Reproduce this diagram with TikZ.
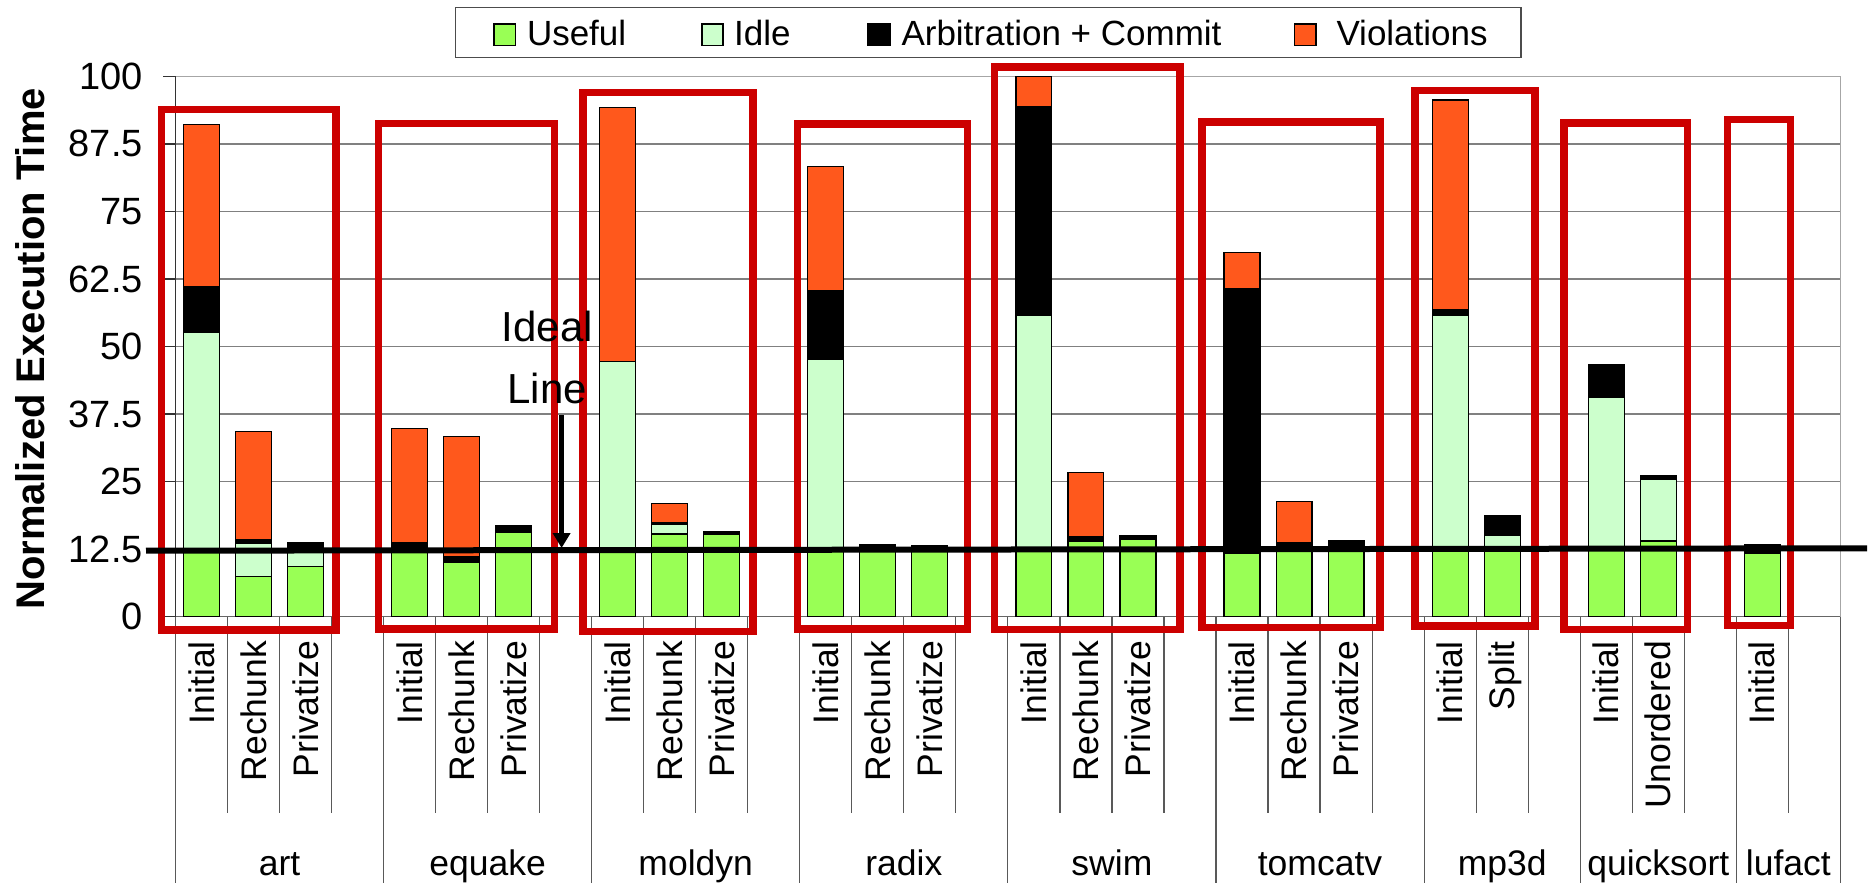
\documentclass[tikz,border=0pt]{standalone}
\usepackage{fontspec}
\setmainfont{Liberation Sans}
\usetikzlibrary{arrows.meta}

\definecolor{cUse}{RGB}{153,255,85}
\definecolor{cIdle}{RGB}{204,255,204}
\definecolor{cViol}{RGB}{255,88,28}
\definecolor{cBox}{RGB}{204,0,0}

% one stacked bar: index, useful, idle, arbitration+commit, violations
\newcommand\stk[5]{%
  \pgfmathsetmacro\stA{#2}%
  \pgfmathsetmacro\stB{#2+#3}%
  \pgfmathsetmacro\stC{#2+#3+#4}%
  \pgfmathsetmacro\stD{#2+#3+#4+#5}%
  \draw[seg, fill=cUse] (#1+0.155,0) rectangle (#1+0.845,\stA);
  \ifdim #3pt>0pt \draw[seg, fill=cIdle] (#1+0.155,\stA) rectangle (#1+0.845,\stB);\fi
  \ifdim #4pt>0pt \draw[seg, fill=black] (#1+0.155,\stB) rectangle (#1+0.845,\stC);\fi
  \ifdim #5pt>0pt \draw[seg, fill=cViol] (#1+0.155,\stC) rectangle (#1+0.845,\stD);\fi
}

\begin{document}
\begin{tikzpicture}[x=1pt,y=-1pt,
  seg/.style={draw=black, line width=1.2pt},
  gridline/.style={draw=black!50, line width=1.4pt},
  frameline/.style={draw=black!35, line width=1.4pt},
  axisline/.style={draw=black!60, line width=1.4pt},
  yaxis/.style={draw=black!80, line width=1.4pt},
  catline/.style={draw=black!65, line width=1.2pt},
  hibox/.style={draw=cBox, line width=7.5pt, line join=miter},
  mk/.style={draw=black, line width=1.4pt},
  lgd/.style={font=\fontsize{35}{40}\selectfont, inner sep=0pt},
  ticklbl/.style={font=\fontsize{38}{44}\selectfont, inner sep=0pt, anchor=east},
  sublbl/.style={font=\fontsize{35.5}{40}\selectfont, inner sep=0pt, rotate=90, anchor=base east},
  grplbl/.style={font=\fontsize{35.5}{40}\selectfont, inner sep=0pt, anchor=base},
  notelbl/.style={font=\fontsize{42}{48}\selectfont, inner sep=0pt, anchor=base}]

\useasboundingbox[fill=white] (0,0) rectangle (1868,883);

% ---- plot area in data units: x = category slot, y = percent
\begin{scope}[shift={(175.4,616.7)}, x=52.03pt, y=5.404pt]
  \foreach \v in {12.5,25,37.5,50,62.5,75,87.5}
    \draw[gridline] (0,\v) -- (32,\v);
  \draw[frameline] (0,100) -- (32,100) -- (32,0);
  \draw[axisline] (0,0) -- (32,0);
  \draw[yaxis] (0,0) -- (0,100);
  \foreach \v in {0,12.5,25,37.5,50,62.5,75,87.5,100}
    \draw[yaxis] (0,\v) -- ++(-12.7pt,0pt);

  % art
  \stk{0}{12.5}{40.1}{8.5}{30.0}
  \stk{1}{7.5}{6.0}{0.8}{19.9}
  \stk{2}{9.3}{2.8}{1.6}{0}
  % equake
  \stk{4}{12.2}{0}{1.6}{21.1}
  \stk{5}{10.1}{0}{1.0}{22.2}
  \stk{6}{15.6}{0}{1.2}{0}
  % moldyn
  \stk{8}{12.5}{34.7}{0}{47.0}
  \stk{9}{15.3}{1.8}{0.3}{3.6}
  \stk{10}{15.2}{0}{0.6}{0}
  % radix
  \stk{12}{12.5}{35.2}{12.6}{23.0}
  \stk{13}{12.6}{0}{0.8}{0}
  \stk{14}{12.6}{0}{0.5}{0}
  % swim
  \stk{16}{12.5}{43.2}{38.7}{5.6}
  \stk{17}{13.95}{0}{0.95}{11.8}
  \stk{18}{14.3}{0}{0.75}{0}
  % tomcatv
  \stk{20}{11.8}{0}{48.9}{6.7}
  \stk{21}{12.8}{0}{1.0}{7.5}
  \stk{22}{13.1}{0}{1.0}{0}
  % mp3d
  \stk{24}{12.5}{43.3}{0.95}{38.85}
  \stk{25}{12.8}{2.3}{3.7}{0}
  % quicksort
  \stk{27}{13.0}{27.5}{6.2}{0}
  \stk{28}{14.0}{11.5}{0.6}{0}
  % lufact
  \stk{30}{11.8}{0}{1.6}{0}
\end{scope}

% ---- y tick labels and axis title
\foreach \v in {0,12.5,25,37.5,50,62.5,75,87.5,100}
  \node[ticklbl] (t-\v) at (143,{616.7-5.404*\v}) {\v};
\node[font=\bfseries\fontsize{40}{46}\selectfont, inner sep=0pt, rotate=90, anchor=base]
  (ytitle) at (44.8,349) {Normalized Execution Time};

% ---- category separators below the axis
\foreach \i in {1,2,3,5,6,7,9,10,11,13,14,15,17,18,19,21,22,23,25,26,28,29,31}
  \draw[catline] ({175.4+52.03*\i},616.7) -- ({175.4+52.03*\i},813);
\foreach \i in {0,4,8,12,16,20,24,27,30,32}
  \draw[catline] ({175.4+52.03*\i},616.7) -- ({175.4+52.03*\i},883);

% ---- variant labels
\foreach \i/\t in {0/Initial,1/Rechunk,2/Privatize,4/Initial,5/Rechunk,6/Privatize,
                   8/Initial,9/Rechunk,10/Privatize,12/Initial,13/Rechunk,14/Privatize,
                   16/Initial,17/Rechunk,18/Privatize,20/Initial,21/Rechunk,22/Privatize,
                   24/Initial,25/Split,27/Initial,28/Unordered,30/Initial}
  \node[sublbl] (s-\i) at ({175.4+52.03*(\i+0.5)+12.6},641) {\t};

% ---- benchmark labels
\node[grplbl] (g-art)   at (279.5,875)  {art};
\node[grplbl] (g-eq)    at (487.6,875)  {equake};
\node[grplbl] (g-mol)   at (695.7,875)  {moldyn};
\node[grplbl] (g-rad)   at (903.8,875)  {radix};
\node[grplbl] (g-swim)  at (1111.9,875) {swim};
\node[grplbl] (g-tom)   at (1320.0,875) {tomcatv};
\node[grplbl] (g-mp3d)  at (1502.2,875) {mp3d};
\node[grplbl] (g-qs)    at (1658.3,875) {quicksort};
\node[grplbl] (g-luf)   at (1788.4,875) {lufact};

% ---- highlight frames around each benchmark
\draw[hibox] (161.7,109.3) rectangle (336,630);
\draw[hibox] (378.6,123.3) rectangle (554.5,628.8);
\draw[hibox] (583,92.7) rectangle (752.9,631.7);
\draw[hibox] (797.5,124.2) rectangle (967.5,629);
\draw[hibox] (994.6,67) rectangle (1180,629.5);
\draw[hibox] (1202,122) rectangle (1380,627.5);
\draw[hibox] (1414.8,90.5) rectangle (1535,626);
\draw[hibox] (1564,122.8) rectangle (1687.5,629.7);
\draw[hibox] (1727.5,119.7) rectangle (1790.7,625.5);

% ---- ideal line with its note
\coordinate (ideal-l) at (146,550.7);
\coordinate (ideal-r) at (1867,548.3);
\draw[line width=6pt] (ideal-l) -- (ideal-r);
\node[notelbl] (ideal-a) at (547.5,341.7) {Ideal};
\node[notelbl] (ideal-b) at (547.3,403.3) {Line};
\coordinate (arr-top) at (561.6,415);
\coordinate (arr-tip) at (561.6,548);
\draw[line width=4.5pt, -{Triangle[length=15pt,width=17pt]}] (arr-top) -- (arr-tip);

% ---- legend
\draw[draw=black!70, line width=1.5pt] (455.4,7.3) rectangle (1520.8,57.3);
\draw[mk, fill=cUse]  (494,24) rectangle (515.6,45.3);
\node[lgd, anchor=base west] (l-use) at (526.8,45.5) {Useful};
\draw[mk, fill=cIdle] (701.8,24) rectangle (722.8,45.3);
\node[lgd, anchor=base west] (l-idle) at (733.9,45.5) {Idle};
\draw[mk, fill=black] (867.9,24) rectangle (890.2,45.3);
\node[lgd, anchor=base west] (l-arb) at (901.3,45.5) {Arbitration + Commit};
\draw[mk, fill=cViol] (1294.6,24) rectangle (1315.9,45.3);
\node[lgd, anchor=base west] (l-viol) at (1336.3,45.5) {Violations};
\end{tikzpicture}
\end{document}
